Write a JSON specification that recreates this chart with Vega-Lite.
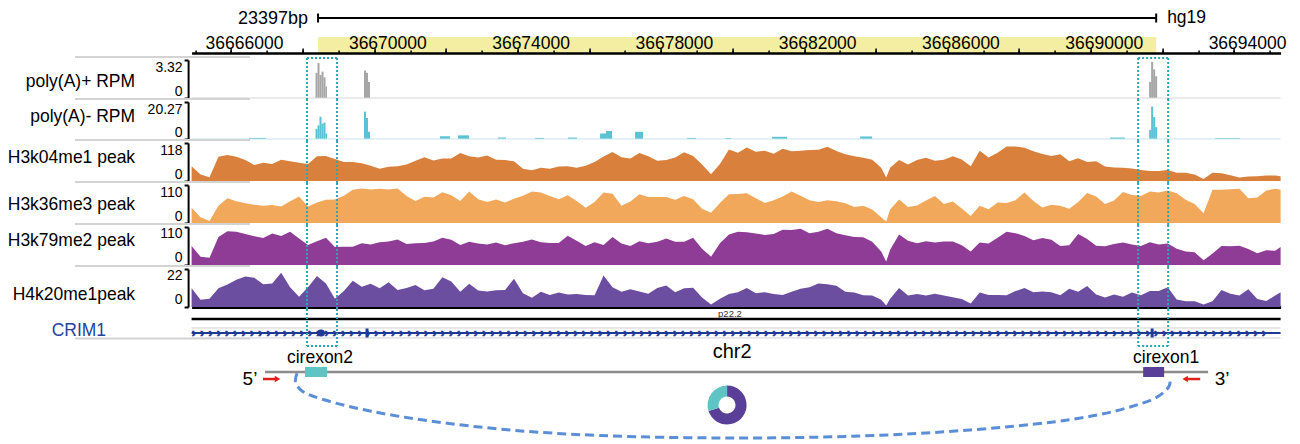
{
"$schema": "https://vega.github.io/schema/vega-lite/v6.json",
"background": "white",
"autosize": {"type": "pad"},
"padding": {"left": 6.6, "top": 0, "right": 5, "bottom": 0},
"bounds": "flush",
"spacing": 4,
"config": {
  "font": "Liberation Sans",
  "view": {"stroke": null},
  "axisY": {"labelFontSize": 14, "labelColor": "#000", "labelFont": "Liberation Sans", "labelPadding": 2, "labelFlush": true, "labelOverlap": false, "tickSize": 4, "tickWidth": 2, "tickColor": "#000", "domainColor": "#000", "domainWidth": 2, "offset": 3.5, "grid": false, "titleAngle": 0, "titleAlign": "right", "titleBaseline": "middle", "titleFontSize": 17.5, "titleFontWeight": "normal", "titleColor": "#000", "titleFont": "Liberation Sans", "titleX": -53.5, "labelExpr": "datum.value == 0 ? '0' : '' + datum.value"}
},
"datasets": {
  "boxes": [{"start": 36668122, "end": 36668960}, {"start": 36691323, "end": 36692161}],
  "polyPlus": [
    {"start": 36668359, "end": 36668415, "rpm": 2.2}, {"start": 36668415, "end": 36668471, "rpm": 3.05}, {"start": 36668471, "end": 36668527, "rpm": 2.0}, {"start": 36668527, "end": 36668583, "rpm": 2.3}, {"start": 36668583, "end": 36668638, "rpm": 1.8}, {"start": 36668638, "end": 36668680, "rpm": 1.0},
    {"start": 36669713, "end": 36669769, "rpm": 2.4}, {"start": 36669769, "end": 36669825, "rpm": 2.2}, {"start": 36669825, "end": 36669881, "rpm": 1.4},
    {"start": 36691631, "end": 36691686, "rpm": 1.4}, {"start": 36691686, "end": 36691742, "rpm": 3.15}, {"start": 36691742, "end": 36691798, "rpm": 2.5}, {"start": 36691798, "end": 36691854, "rpm": 1.9}
  ],
  "polyMinus": [
    {"start": 36666503, "end": 36666977, "rpm": 0.6},
    {"start": 36668359, "end": 36668415, "rpm": 5.5}, {"start": 36668415, "end": 36668471, "rpm": 7.5}, {"start": 36668471, "end": 36668527, "rpm": 12.2}, {"start": 36668527, "end": 36668583, "rpm": 8.5}, {"start": 36668583, "end": 36668638, "rpm": 9.0}, {"start": 36668638, "end": 36668680, "rpm": 3.0},
    {"start": 36669713, "end": 36669769, "rpm": 15.0}, {"start": 36669769, "end": 36669825, "rpm": 11.5}, {"start": 36669825, "end": 36669881, "rpm": 4.0},
    {"start": 36671835, "end": 36672114, "rpm": 1.5}, {"start": 36672338, "end": 36672645, "rpm": 2.0}, {"start": 36673455, "end": 36673678, "rpm": 0.8}, {"start": 36674488, "end": 36674739, "rpm": 0.6}, {"start": 36675409, "end": 36675660, "rpm": 0.8},
    {"start": 36676302, "end": 36676470, "rpm": 3.0}, {"start": 36676470, "end": 36676638, "rpm": 4.4}, {"start": 36677280, "end": 36677503, "rpm": 4.0},
    {"start": 36678731, "end": 36678983, "rpm": 0.6}, {"start": 36679792, "end": 36679960, "rpm": 0.6}, {"start": 36681105, "end": 36681524, "rpm": 1.2}, {"start": 36683562, "end": 36683897, "rpm": 1.4}, {"start": 36690542, "end": 36690960, "rpm": 0.8},
    {"start": 36691631, "end": 36691686, "rpm": 5.0}, {"start": 36691686, "end": 36691742, "rpm": 17.8}, {"start": 36691742, "end": 36691798, "rpm": 12.0}, {"start": 36691798, "end": 36691854, "rpm": 6.5},
    {"start": 36693473, "end": 36694171, "rpm": 0.4}
  ],
  "tracks": [
    {"pos": 36664900, "k04": 46, "k36": 44, "k79": 55, "k20": 10.8},
    {"pos": 36665150, "k04": 20, "k36": 17, "k79": 24, "k20": 4.2},
    {"pos": 36665400, "k04": 12, "k36": 6, "k79": 21, "k20": 4.8},
    {"pos": 36665650, "k04": 75, "k36": 50, "k79": 81, "k20": 10.8},
    {"pos": 36665900, "k04": 81, "k36": 72, "k79": 98, "k20": 13.0},
    {"pos": 36666150, "k04": 75, "k36": 63, "k79": 96, "k20": 15.8},
    {"pos": 36666400, "k04": 65, "k36": 57, "k79": 90, "k20": 17.6},
    {"pos": 36666650, "k04": 50, "k36": 53, "k79": 83, "k20": 16.9},
    {"pos": 36666900, "k04": 57, "k36": 50, "k79": 78, "k20": 13.2},
    {"pos": 36667150, "k04": 53, "k36": 52, "k79": 91, "k20": 13.6},
    {"pos": 36667400, "k04": 66, "k36": 48, "k79": 84, "k20": 19.8},
    {"pos": 36667650, "k04": 61, "k36": 63, "k79": 96, "k20": 11.4},
    {"pos": 36667900, "k04": 57, "k36": 77, "k79": 77, "k20": 5.9},
    {"pos": 36668150, "k04": 53, "k36": 48, "k79": 58, "k20": 11.4},
    {"pos": 36668400, "k04": 77, "k36": 59, "k79": 69, "k20": 18.0},
    {"pos": 36668650, "k04": 78, "k36": 67, "k79": 79, "k20": 13.6},
    {"pos": 36668900, "k04": 68, "k36": 68, "k79": 52, "k20": 4.8},
    {"pos": 36669150, "k04": 59, "k36": 79, "k79": 53, "k20": 9.2},
    {"pos": 36669400, "k04": 59, "k36": 96, "k79": 53, "k20": 15.2},
    {"pos": 36669650, "k04": 55, "k36": 100, "k79": 63, "k20": 11.7},
    {"pos": 36669900, "k04": 47, "k36": 97, "k79": 59, "k20": 13.4},
    {"pos": 36670150, "k04": 38, "k36": 99, "k79": 66, "k20": 10.8},
    {"pos": 36670400, "k04": 44, "k36": 97, "k79": 68, "k20": 14.3},
    {"pos": 36670650, "k04": 46, "k36": 100, "k79": 74, "k20": 9.9},
    {"pos": 36670900, "k04": 51, "k36": 78, "k79": 61, "k20": 11.0},
    {"pos": 36671150, "k04": 63, "k36": 64, "k79": 63, "k20": 12.8},
    {"pos": 36671400, "k04": 74, "k36": 76, "k79": 64, "k20": 9.7},
    {"pos": 36671650, "k04": 64, "k36": 74, "k79": 68, "k20": 10.6},
    {"pos": 36671900, "k04": 70, "k36": 89, "k79": 79, "k20": 17.2},
    {"pos": 36672150, "k04": 70, "k36": 80, "k79": 73, "k20": 14.7},
    {"pos": 36672400, "k04": 87, "k36": 64, "k79": 58, "k20": 8.8},
    {"pos": 36672650, "k04": 77, "k36": 91, "k79": 67, "k20": 13.4},
    {"pos": 36672900, "k04": 73, "k36": 69, "k79": 62, "k20": 9.5},
    {"pos": 36673150, "k04": 79, "k36": 61, "k79": 59, "k20": 9.0},
    {"pos": 36673400, "k04": 66, "k36": 68, "k79": 65, "k20": 9.7},
    {"pos": 36673650, "k04": 65, "k36": 59, "k79": 57, "k20": 9.9},
    {"pos": 36673900, "k04": 61, "k36": 70, "k79": 63, "k20": 16.3},
    {"pos": 36674150, "k04": 38, "k36": 79, "k79": 67, "k20": 7.9},
    {"pos": 36674400, "k04": 33, "k36": 91, "k79": 74, "k20": 5.3},
    {"pos": 36674650, "k04": 41, "k36": 88, "k79": 66, "k20": 8.8},
    {"pos": 36674900, "k04": 38, "k36": 78, "k79": 64, "k20": 7.0},
    {"pos": 36675150, "k04": 45, "k36": 69, "k79": 64, "k20": 8.4},
    {"pos": 36675400, "k04": 46, "k36": 80, "k79": 85, "k20": 7.3},
    {"pos": 36675650, "k04": 41, "k36": 64, "k79": 70, "k20": 7.5},
    {"pos": 36675900, "k04": 47, "k36": 44, "k79": 55, "k20": 7.0},
    {"pos": 36676150, "k04": 59, "k36": 61, "k79": 66, "k20": 6.8},
    {"pos": 36676400, "k04": 76, "k36": 88, "k79": 58, "k20": 18.3},
    {"pos": 36676650, "k04": 90, "k36": 85, "k79": 81, "k20": 11.4},
    {"pos": 36676900, "k04": 74, "k36": 50, "k79": 62, "k20": 8.8},
    {"pos": 36677150, "k04": 70, "k36": 62, "k79": 55, "k20": 10.3},
    {"pos": 36677400, "k04": 87, "k36": 83, "k79": 69, "k20": 9.0},
    {"pos": 36677650, "k04": 77, "k36": 75, "k79": 63, "k20": 7.7},
    {"pos": 36677900, "k04": 63, "k36": 75, "k79": 67, "k20": 11.0},
    {"pos": 36678150, "k04": 65, "k36": 75, "k79": 77, "k20": 12.5},
    {"pos": 36678400, "k04": 73, "k36": 67, "k79": 67, "k20": 8.6},
    {"pos": 36678650, "k04": 89, "k36": 78, "k79": 67, "k20": 10.8},
    {"pos": 36678900, "k04": 78, "k36": 69, "k79": 79, "k20": 11.2},
    {"pos": 36679150, "k04": 51, "k36": 41, "k79": 47, "k20": 5.5},
    {"pos": 36679400, "k04": 21, "k36": 30, "k79": 24, "k20": 1.5},
    {"pos": 36679650, "k04": 53, "k36": 58, "k79": 63, "k20": 4.8},
    {"pos": 36679900, "k04": 98, "k36": 83, "k79": 88, "k20": 7.5},
    {"pos": 36680150, "k04": 88, "k36": 84, "k79": 96, "k20": 8.6},
    {"pos": 36680400, "k04": 104, "k36": 86, "k79": 95, "k20": 11.0},
    {"pos": 36680650, "k04": 91, "k36": 72, "k79": 91, "k20": 7.9},
    {"pos": 36680900, "k04": 94, "k36": 58, "k79": 87, "k20": 8.6},
    {"pos": 36681150, "k04": 85, "k36": 66, "k79": 90, "k20": 7.5},
    {"pos": 36681400, "k04": 100, "k36": 77, "k79": 102, "k20": 7.0},
    {"pos": 36681650, "k04": 92, "k36": 91, "k79": 101, "k20": 8.8},
    {"pos": 36681900, "k04": 94, "k36": 79, "k79": 105, "k20": 10.6},
    {"pos": 36682150, "k04": 96, "k36": 66, "k79": 92, "k20": 11.4},
    {"pos": 36682400, "k04": 97, "k36": 61, "k79": 96, "k20": 13.6},
    {"pos": 36682650, "k04": 106, "k36": 66, "k79": 105, "k20": 13.2},
    {"pos": 36682900, "k04": 93, "k36": 63, "k79": 92, "k20": 12.3},
    {"pos": 36683150, "k04": 83, "k36": 57, "k79": 86, "k20": 8.8},
    {"pos": 36683400, "k04": 77, "k36": 46, "k79": 81, "k20": 8.4},
    {"pos": 36683650, "k04": 72, "k36": 50, "k79": 80, "k20": 6.8},
    {"pos": 36683900, "k04": 66, "k36": 39, "k79": 67, "k20": 6.6},
    {"pos": 36684150, "k04": 41, "k36": 17, "k79": 39, "k20": 4.2},
    {"pos": 36684290, "k04": 11, "k36": 4, "k79": 10, "k20": 0.9},
    {"pos": 36684400, "k04": 41, "k36": 39, "k79": 44, "k20": 4.8},
    {"pos": 36684650, "k04": 65, "k36": 68, "k79": 88, "k20": 11.0},
    {"pos": 36684900, "k04": 51, "k36": 46, "k79": 70, "k20": 6.6},
    {"pos": 36685150, "k04": 65, "k36": 51, "k79": 63, "k20": 7.5},
    {"pos": 36685400, "k04": 72, "k36": 65, "k79": 69, "k20": 6.6},
    {"pos": 36685650, "k04": 63, "k36": 78, "k79": 65, "k20": 7.7},
    {"pos": 36685900, "k04": 66, "k36": 55, "k79": 68, "k20": 6.6},
    {"pos": 36686150, "k04": 77, "k36": 62, "k79": 68, "k20": 5.7},
    {"pos": 36686400, "k04": 67, "k36": 42, "k79": 57, "k20": 4.6},
    {"pos": 36686650, "k04": 46, "k36": 20, "k79": 39, "k20": 2.0},
    {"pos": 36686900, "k04": 94, "k36": 50, "k79": 65, "k20": 8.4},
    {"pos": 36687150, "k04": 73, "k36": 40, "k79": 62, "k20": 7.0},
    {"pos": 36687400, "k04": 88, "k36": 59, "k79": 79, "k20": 7.0},
    {"pos": 36687650, "k04": 107, "k36": 58, "k79": 96, "k20": 6.8},
    {"pos": 36687900, "k04": 107, "k36": 66, "k79": 92, "k20": 9.2},
    {"pos": 36688150, "k04": 103, "k36": 88, "k79": 84, "k20": 11.0},
    {"pos": 36688400, "k04": 92, "k36": 64, "k79": 72, "k20": 8.6},
    {"pos": 36688650, "k04": 84, "k36": 45, "k79": 78, "k20": 9.0},
    {"pos": 36688900, "k04": 78, "k36": 53, "k79": 73, "k20": 8.6},
    {"pos": 36689150, "k04": 83, "k36": 50, "k79": 55, "k20": 6.8},
    {"pos": 36689400, "k04": 61, "k36": 41, "k79": 57, "k20": 10.6},
    {"pos": 36689650, "k04": 71, "k36": 61, "k79": 90, "k20": 8.8},
    {"pos": 36689900, "k04": 59, "k36": 87, "k79": 75, "k20": 12.1},
    {"pos": 36690150, "k04": 61, "k36": 77, "k79": 56, "k20": 7.3},
    {"pos": 36690400, "k04": 45, "k36": 55, "k79": 54, "k20": 5.5},
    {"pos": 36690650, "k04": 42, "k36": 65, "k79": 61, "k20": 7.3},
    {"pos": 36690900, "k04": 41, "k36": 90, "k79": 65, "k20": 5.9},
    {"pos": 36691150, "k04": 39, "k36": 81, "k79": 59, "k20": 8.4},
    {"pos": 36691400, "k04": 34, "k36": 78, "k79": 55, "k20": 6.8},
    {"pos": 36691650, "k04": 31, "k36": 91, "k79": 66, "k20": 9.2},
    {"pos": 36691900, "k04": 31, "k36": 88, "k79": 59, "k20": 9.2},
    {"pos": 36692150, "k04": 34, "k36": 94, "k79": 62, "k20": 11.4},
    {"pos": 36692400, "k04": 26, "k36": 86, "k79": 47, "k20": 4.4},
    {"pos": 36692650, "k04": 26, "k36": 67, "k79": 39, "k20": 3.3},
    {"pos": 36692900, "k04": 20, "k36": 55, "k79": 37, "k20": 3.3},
    {"pos": 36693150, "k04": 6, "k36": 28, "k79": 14, "k20": 1.5},
    {"pos": 36693400, "k04": 26, "k36": 96, "k79": 33, "k20": 3.3},
    {"pos": 36693650, "k04": 24, "k36": 96, "k79": 55, "k20": 9.9},
    {"pos": 36693900, "k04": 18, "k36": 98, "k79": 54, "k20": 7.7},
    {"pos": 36694150, "k04": 11, "k36": 99, "k79": 56, "k20": 6.6},
    {"pos": 36694400, "k04": 14, "k36": 72, "k79": 46, "k20": 10.3},
    {"pos": 36694650, "k04": 15, "k36": 74, "k79": 34, "k20": 4.6},
    {"pos": 36694900, "k04": 17, "k36": 94, "k79": 43, "k20": 3.5},
    {"pos": 36695150, "k04": 17, "k36": 99, "k79": 41, "k20": 6.6},
    {"pos": 36695300, "k04": 15, "k36": 96, "k79": 52, "k20": 8.6}
  ],
  "curve": [
    {"p": 36667843, "d": 0.02, "k": 0}, {"p": 36667801, "d": 0.154, "k": 1}, {"p": 36667982, "d": 0.292, "k": 2}, {"p": 36668624, "d": 0.431, "k": 3},
    {"p": 36669881, "d": 0.6, "k": 4}, {"p": 36671556, "d": 0.754, "k": 5}, {"p": 36673790, "d": 0.892, "k": 6}, {"p": 36676302, "d": 0.977, "k": 7},
    {"p": 36679932, "d": 1.015, "k": 8}, {"p": 36683562, "d": 0.985, "k": 9}, {"p": 36686633, "d": 0.892, "k": 10}, {"p": 36688950, "d": 0.769, "k": 11},
    {"p": 36690179, "d": 0.662, "k": 12}, {"p": 36691100, "d": 0.538, "k": 13}, {"p": 36691854, "d": 0.385, "k": 14}, {"p": 36692189, "d": 0.215, "k": 15},
    {"p": 36692217, "d": 0.062, "k": 16}
  ],
  "circ": [{"name": "cirexon2", "start": 36668066, "end": 36668680}, {"name": "cirexon1", "start": 36691463, "end": 36692049}],
  "donut": [{"name": "cirexon1", "share": 70, "k": 1}, {"name": "cirexon2", "share": 30, "k": 2}],
  "sep": [{"s": 36661644, "e": 36666530}]
},
"vconcat": [
  {
    "height": 56, "width": 1089,
    "resolve": {"axis": {"x": "independent"}},
    "layer": [
      {"data": {"values": [{"s": 36668430, "e": 36691827}]},
       "mark": {"type": "rect", "color": "#f3eea2"},
       "encoding": {
         "x": {"field": "s", "type": "quantitative", "scale": {"domain": [36664900, 36695300], "nice": false, "zero": false},
               "axis": {"orient": "top", "offset": -53, "zindex": 2, "values": [36665000,36666000,36667000,36668000,36669000,36670000,36671000,36672000,36673000,36674000,36675000,36676000,36677000,36678000,36679000,36680000,36681000,36682000,36683000,36684000,36685000,36686000,36687000,36688000,36689000,36690000,36691000,36692000,36693000,36694000,36695000],
                        "labels": false, "tickSize": 3, "tickWidth": 1.5, "tickColor": "#000", "domain": true, "domainWidth": 2.5, "domainColor": "#000", "grid": false, "title": null}},
         "x2": {"field": "e"},
         "y": {"datum": 37, "scale": {"domain": [0, 56], "reverse": true, "nice": false, "zero": false}, "axis": null},
         "y2": {"datum": 53}}},
      {"data": {"values": [{"s": 36668430, "e": 36691827}]},
       "mark": {"type": "rule", "color": "#000", "strokeWidth": 2},
       "encoding": {
         "x": {"field": "s", "type": "quantitative", "scale": {"domain": [36664900, 36695300], "nice": false, "zero": false},
               "axis": {"orient": "top", "offset": -53, "zindex": 2, "values": [36666000,36668000,36670000,36672000,36674000,36676000,36678000,36680000,36682000,36684000,36686000,36688000,36690000,36692000,36694000],
                        "tickSize": 5, "tickWidth": 1.5, "tickColor": "#000", "domain": false, "grid": false, "title": null,
                        "labelExpr": "(datum.value - 36666000) % 4000 == 0 ? format(datum.value, 'd') : ''",
                        "labelFontSize": 17.5, "labelFont": "Liberation Sans", "labelColor": "#000", "labelBaseline": "alphabetic", "labelPadding": 0, "labelOffset": 13, "labelFlush": false, "labelOverlap": false}},
         "x2": {"field": "e"},
         "y": {"datum": 18, "scale": {"domain": [0, 56], "reverse": true, "nice": false, "zero": false}, "axis": null}}},
      {"data": {"values": [{"p": 36668430}, {"p": 36691827}]},
       "mark": {"type": "rule", "color": "#000", "strokeWidth": 2},
       "encoding": {
         "x": {"field": "p", "type": "quantitative", "scale": {"domain": [36664900, 36695300], "nice": false, "zero": false}, "axis": null},
         "y": {"datum": 13.5, "scale": {"domain": [0, 56], "reverse": true, "nice": false, "zero": false}, "axis": null},
         "y2": {"datum": 22.5}}},
      {"data": {"values": [{"t": "23397bp"}]},
       "mark": {"type": "text", "align": "right", "baseline": "middle", "fontSize": 18, "color": "#000"},
       "encoding": {"text": {"field": "t"},
         "x": {"datum": 36668150, "scale": {"domain": [36664900, 36695300], "nice": false, "zero": false}, "axis": null},
         "y": {"datum": 19, "scale": {"domain": [0, 56], "reverse": true, "nice": false, "zero": false}, "axis": null}}},
      {"data": {"values": [{"t": "hg19"}]},
       "mark": {"type": "text", "align": "left", "baseline": "middle", "fontSize": 17.5, "color": "#000"},
       "encoding": {"text": {"field": "t"},
         "x": {"datum": 36692133, "scale": {"domain": [36664900, 36695300], "nice": false, "zero": false}, "axis": null},
         "y": {"datum": 17.5, "scale": {"domain": [0, 56], "reverse": true, "nice": false, "zero": false}, "axis": null}}}
    ]
  },
  {
    "height": 38, "width": 1089,
    "layer": [
      {"data": {"name": "polyPlus"}, "mark": {"type": "rect", "color": "#a6a6a6"},
       "encoding": {
         "x": {"field": "start", "type": "quantitative", "scale": {"domain": [36664900, 36695300], "nice": false, "zero": false}, "axis": null},
         "x2": {"field": "end"},
         "y": {"field": "rpm", "type": "quantitative", "scale": {"domain": [0, 3.32], "nice": false, "zero": false}, "axis": {"values": [0, 3.32], "title": "poly(A)+ RPM", "titleY": 21}},
         "y2": {"datum": 0}}},
      {"data": {"values": [{"s": 36664900, "e": 36695300}]}, "mark": {"type": "rule", "color": "#d6d6d6", "strokeWidth": 1},
       "encoding": {
         "x": {"field": "s", "type": "quantitative", "scale": {"domain": [36664900, 36695300], "nice": false, "zero": false}, "axis": null},
         "x2": {"field": "e"},
         "y": {"datum": 0, "scale": {"domain": [0, 3.32], "nice": false, "zero": false}}}},
      {"data": {"name": "sep"}, "mark": {"type": "rule", "color": "#d3d3d3", "strokeWidth": 2},
       "encoding": {
         "x": {"field": "s", "type": "quantitative", "scale": {"domain": [36664900, 36695300], "nice": false, "zero": false}, "axis": null},
         "x2": {"field": "e"},
         "y": {"datum": -0.087, "scale": {"domain": [0, 3.32], "nice": false, "zero": false}}}},
      {"data": {"name": "sep"}, "mark": {"type": "rule", "color": "#d3d3d3", "strokeWidth": 2},
       "encoding": {
         "x": {"field": "s", "type": "quantitative", "scale": {"domain": [36664900, 36695300], "nice": false, "zero": false}, "axis": null},
         "x2": {"field": "e"},
         "y": {"datum": 3.58, "scale": {"domain": [0, 3.32], "nice": false, "zero": false}}}},
      {"data": {"name": "boxes"}, "transform": [{"fold": ["start", "end"], "as": ["edge", "p"]}],
       "mark": {"type": "rule", "color": "#2aa7b5", "strokeWidth": 2, "strokeDash": [2, 2]},
       "encoding": {
         "x": {"field": "p", "type": "quantitative", "scale": {"domain": [36664900, 36695300], "nice": false, "zero": false}, "axis": null},
         "y": {"datum": -0.175, "scale": {"domain": [0, 3.32], "nice": false, "zero": false}},
         "y2": {"datum": 3.495}}},
      {"data": {"name": "boxes"},
       "mark": {"type": "rule", "color": "#2aa7b5", "strokeWidth": 2, "strokeDash": [2, 2]},
       "encoding": {
         "x": {"field": "start", "type": "quantitative", "scale": {"domain": [36664900, 36695300], "nice": false, "zero": false}, "axis": null},
         "x2": {"field": "end"},
         "y": {"datum": 3.495, "scale": {"domain": [0, 3.32], "nice": false, "zero": false}}}}
    ]
  },
  {
    "height": 37, "width": 1089,
    "layer": [
      {"data": {"name": "polyMinus"}, "mark": {"type": "rect", "color": "#5bc2d4"},
       "encoding": {
         "x": {"field": "start", "type": "quantitative", "scale": {"domain": [36664900, 36695300], "nice": false, "zero": false}, "axis": null},
         "x2": {"field": "end"},
         "y": {"field": "rpm", "type": "quantitative", "scale": {"domain": [0, 20.27], "nice": false, "zero": false}, "axis": {"values": [0, 20.27], "title": "poly(A)- RPM", "titleY": 14}},
         "y2": {"datum": 0}}},
      {"data": {"values": [{"s": 36664900, "e": 36695300}]}, "mark": {"type": "rule", "color": "#c4e5ec", "strokeWidth": 1},
       "encoding": {
         "x": {"field": "s", "type": "quantitative", "scale": {"domain": [36664900, 36695300], "nice": false, "zero": false}, "axis": null},
         "x2": {"field": "e"},
         "y": {"datum": 0, "scale": {"domain": [0, 20.27], "nice": false, "zero": false}}}},
      {"data": {"name": "sep"}, "mark": {"type": "rule", "color": "#d3d3d3", "strokeWidth": 2},
       "encoding": {
         "x": {"field": "s", "type": "quantitative", "scale": {"domain": [36664900, 36695300], "nice": false, "zero": false}, "axis": null},
         "x2": {"field": "e"},
         "y": {"datum": -0.55, "scale": {"domain": [0, 20.27], "nice": false, "zero": false}}}},
      {"data": {"name": "boxes"}, "transform": [{"fold": ["start", "end"], "as": ["edge", "p"]}],
       "mark": {"type": "rule", "color": "#2aa7b5", "strokeWidth": 2, "strokeDash": [2, 2]},
       "encoding": {
         "x": {"field": "p", "type": "quantitative", "scale": {"domain": [36664900, 36695300], "nice": false, "zero": false}, "axis": null},
         "y": {"datum": -1.096, "scale": {"domain": [0, 20.27], "nice": false, "zero": false}},
         "y2": {"datum": 21.366}}}
    ]
  },
  {
    "height": 38, "width": 1089,
    "layer": [
      {"data": {"name": "tracks"}, "mark": {"type": "area", "color": "#d9803d"},
       "encoding": {
         "x": {"field": "pos", "type": "quantitative", "scale": {"domain": [36664900, 36695300], "nice": false, "zero": false}, "axis": null},
         "y": {"field": "k04", "type": "quantitative", "scale": {"domain": [0, 118], "nice": false, "zero": false}, "axis": {"values": [0, 118], "title": "H3k04me1 peak", "titleY": 14.5}}}},
      {"data": {"name": "sep"}, "mark": {"type": "rule", "color": "#d3d3d3", "strokeWidth": 2},
       "encoding": {
         "x": {"field": "s", "type": "quantitative", "scale": {"domain": [36664900, 36695300], "nice": false, "zero": false}, "axis": null},
         "x2": {"field": "e"},
         "y": {"datum": -3.1, "scale": {"domain": [0, 118], "nice": false, "zero": false}}}},
      {"data": {"name": "boxes"}, "transform": [{"fold": ["start", "end"], "as": ["edge", "p"]}],
       "mark": {"type": "rule", "color": "#2aa7b5", "strokeWidth": 2, "strokeDash": [2, 2]},
       "encoding": {
         "x": {"field": "p", "type": "quantitative", "scale": {"domain": [36664900, 36695300], "nice": false, "zero": false}, "axis": null},
         "y": {"datum": -6.21, "scale": {"domain": [0, 118], "nice": false, "zero": false}},
         "y2": {"datum": 124.21}}}
    ]
  },
  {
    "height": 38, "width": 1089,
    "layer": [
      {"data": {"name": "tracks"}, "mark": {"type": "area", "color": "#f2a85b"},
       "encoding": {
         "x": {"field": "pos", "type": "quantitative", "scale": {"domain": [36664900, 36695300], "nice": false, "zero": false}, "axis": null},
         "y": {"field": "k36", "type": "quantitative", "scale": {"domain": [0, 110], "nice": false, "zero": false}, "axis": {"values": [0, 110], "title": "H3k36me3 peak", "titleY": 19.25}}}},
      {"data": {"name": "sep"}, "mark": {"type": "rule", "color": "#d3d3d3", "strokeWidth": 2},
       "encoding": {
         "x": {"field": "s", "type": "quantitative", "scale": {"domain": [36664900, 36695300], "nice": false, "zero": false}, "axis": null},
         "x2": {"field": "e"},
         "y": {"datum": -2.9, "scale": {"domain": [0, 110], "nice": false, "zero": false}}}},
      {"data": {"name": "boxes"}, "transform": [{"fold": ["start", "end"], "as": ["edge", "p"]}],
       "mark": {"type": "rule", "color": "#2aa7b5", "strokeWidth": 2, "strokeDash": [2, 2]},
       "encoding": {
         "x": {"field": "p", "type": "quantitative", "scale": {"domain": [36664900, 36695300], "nice": false, "zero": false}, "axis": null},
         "y": {"datum": -5.79, "scale": {"domain": [0, 110], "nice": false, "zero": false}},
         "y2": {"datum": 115.79}}}
    ]
  },
  {
    "height": 38, "width": 1089,
    "layer": [
      {"data": {"name": "tracks"}, "mark": {"type": "area", "color": "#8e3c96"},
       "encoding": {
         "x": {"field": "pos", "type": "quantitative", "scale": {"domain": [36664900, 36695300], "nice": false, "zero": false}, "axis": null},
         "y": {"field": "k79", "type": "quantitative", "scale": {"domain": [0, 110], "nice": false, "zero": false}, "axis": {"values": [0, 110], "title": "H3k79me2 peak", "titleY": 14}}}},
      {"data": {"name": "sep"}, "mark": {"type": "rule", "color": "#d3d3d3", "strokeWidth": 2},
       "encoding": {
         "x": {"field": "s", "type": "quantitative", "scale": {"domain": [36664900, 36695300], "nice": false, "zero": false}, "axis": null},
         "x2": {"field": "e"},
         "y": {"datum": -2.9, "scale": {"domain": [0, 110], "nice": false, "zero": false}}}},
      {"data": {"name": "boxes"}, "transform": [{"fold": ["start", "end"], "as": ["edge", "p"]}],
       "mark": {"type": "rule", "color": "#2aa7b5", "strokeWidth": 2, "strokeDash": [2, 2]},
       "encoding": {
         "x": {"field": "p", "type": "quantitative", "scale": {"domain": [36664900, 36695300], "nice": false, "zero": false}, "axis": null},
         "y": {"datum": -5.79, "scale": {"domain": [0, 110], "nice": false, "zero": false}},
         "y2": {"datum": 115.79}}}
    ]
  },
  {
    "height": 38, "width": 1089,
    "layer": [
      {"data": {"name": "tracks"}, "mark": {"type": "area", "color": "#6c4ea0"},
       "encoding": {
         "x": {"field": "pos", "type": "quantitative", "scale": {"domain": [36664900, 36695300], "nice": false, "zero": false},
               "axis": {"orient": "bottom", "labels": false, "ticks": false, "domain": true, "domainWidth": 3, "domainColor": "#000", "grid": false, "title": null}},
         "y": {"field": "k20", "type": "quantitative", "scale": {"domain": [0, 22], "nice": false, "zero": false}, "axis": {"values": [0, 22], "title": "H4k20me1peak", "titleY": 25.25}}}},
      {"data": {"name": "boxes"}, "transform": [{"fold": ["start", "end"], "as": ["edge", "p"]}],
       "mark": {"type": "rule", "color": "#2aa7b5", "strokeWidth": 2, "strokeDash": [2, 2]},
       "encoding": {
         "x": {"field": "p", "type": "quantitative", "scale": {"domain": [36664900, 36695300], "nice": false, "zero": false}},
         "y": {"datum": -1.158, "scale": {"domain": [0, 22], "nice": false, "zero": false}},
         "y2": {"datum": 23.158}}}
    ]
  },
  {
    "height": 30, "width": 1089,
    "layer": [
      {"data": {"values": [{"s": 36664900, "e": 36695300}]}, "mark": {"type": "rule", "color": "#000", "strokeWidth": 2.5},
       "encoding": {
         "x": {"field": "s", "type": "quantitative", "scale": {"domain": [36664900, 36695300], "nice": false, "zero": false}, "axis": null},
         "x2": {"field": "e"},
         "y": {"datum": 8, "scale": {"domain": [0, 30], "reverse": true, "nice": false, "zero": false},
               "axis": {"title": "CRIM1", "domain": false, "ticks": false, "labels": false, "offset": 0, "titleX": -86, "titleY": 19.25, "titleColor": "#2443a0"}}}},
      {"data": {"values": [{"s": 36664900, "e": 36695300}]}, "mark": {"type": "rule", "color": "#d2d2d2", "strokeWidth": 1},
       "encoding": {
         "x": {"field": "s", "type": "quantitative", "scale": {"domain": [36664900, 36695300], "nice": false, "zero": false}, "axis": null},
         "x2": {"field": "e"},
         "y": {"datum": 17, "scale": {"domain": [0, 30], "reverse": true, "nice": false, "zero": false}}}},
      {"data": {"values": [{"s": 36664900, "e": 36695300}]}, "mark": {"type": "rule", "color": "#d2d2d2", "strokeWidth": 1},
       "encoding": {
         "x": {"field": "s", "type": "quantitative", "scale": {"domain": [36664900, 36695300], "nice": false, "zero": false}, "axis": null},
         "x2": {"field": "e"},
         "y": {"datum": 27, "scale": {"domain": [0, 30], "reverse": true, "nice": false, "zero": false}}}},
      {"data": {"name": "sep"}, "mark": {"type": "rule", "color": "#d3d3d3", "strokeWidth": 2},
       "encoding": {
         "x": {"field": "s", "type": "quantitative", "scale": {"domain": [36664900, 36695300], "nice": false, "zero": false}, "axis": null},
         "x2": {"field": "e"},
         "y": {"datum": 27.5, "scale": {"domain": [0, 30], "reverse": true, "nice": false, "zero": false}}}},
      {"data": {"values": [{"s": 36664900, "e": 36695300}]}, "mark": {"type": "rule", "color": "#1e3a96", "strokeWidth": 2},
       "encoding": {
         "x": {"field": "s", "type": "quantitative", "scale": {"domain": [36664900, 36695300], "nice": false, "zero": false}, "axis": null},
         "x2": {"field": "e"},
         "y": {"datum": 22, "scale": {"domain": [0, 30], "reverse": true, "nice": false, "zero": false}}}},
      {"data": {"values": [{"t": "› › › › › › › › › › › › › › › › › › › › › › › › › › › › › › › › › › › › › › › › › › › › › › › › › › › › › › › › › › › › › › › › › › › › › › › › › › › › › › › › › › › › › › › › › › › › › › › › › › › › › › › › › › › › › › › › › › › › › › › › › › › › › › › › › › › › › › › › › › › › › › ›"}]},
       "mark": {"type": "text", "align": "left", "baseline": "middle", "fontSize": 13.6, "fontWeight": "bold", "color": "#1e3a96", "stroke": "#1e3a96", "strokeWidth": 0.5, "limit": 1086, "ellipsis": " "},
       "encoding": {"text": {"field": "t"},
         "x": {"datum": 36664900, "scale": {"domain": [36664900, 36695300], "nice": false, "zero": false}, "axis": null},
         "y": {"datum": 22, "scale": {"domain": [0, 30], "reverse": true, "nice": false, "zero": false}}}},
      {"data": {"values": [{"s": 36669755, "e": 36669839}, {"s": 36691672, "e": 36691756}]}, "mark": {"type": "rect", "color": "#1e3a96"},
       "encoding": {
         "x": {"field": "s", "type": "quantitative", "scale": {"domain": [36664900, 36695300], "nice": false, "zero": false}, "axis": null},
         "x2": {"field": "e"},
         "y": {"datum": 17.5, "scale": {"domain": [0, 30], "reverse": true, "nice": false, "zero": false}},
         "y2": {"datum": 26.5}}},
      {"data": {"values": [{"s": 36668401, "e": 36668625}]}, "mark": {"type": "rect", "color": "#1e3a96", "cornerRadius": 3.5},
       "encoding": {
         "x": {"field": "s", "type": "quantitative", "scale": {"domain": [36664900, 36695300], "nice": false, "zero": false}, "axis": null},
         "x2": {"field": "e"},
         "y": {"datum": 18.5, "scale": {"domain": [0, 30], "reverse": true, "nice": false, "zero": false}},
         "y2": {"datum": 25.5}}},
      {"data": {"values": [{"t": "p22.2"}]},
       "mark": {"type": "text", "align": "left", "baseline": "middle", "fontSize": 9.5, "color": "#333"},
       "encoding": {"text": {"field": "t"},
         "x": {"datum": 36679597, "scale": {"domain": [36664900, 36695300], "nice": false, "zero": false}, "axis": null},
         "y": {"datum": 3.3, "scale": {"domain": [0, 30], "reverse": true, "nice": false, "zero": false}}}},
      {"data": {"name": "boxes"}, "transform": [{"fold": ["start", "end"], "as": ["edge", "p"]}],
       "mark": {"type": "rule", "color": "#2aa7b5", "strokeWidth": 2, "strokeDash": [2, 2]},
       "encoding": {
         "x": {"field": "p", "type": "quantitative", "scale": {"domain": [36664900, 36695300], "nice": false, "zero": false}, "axis": null},
         "y": {"datum": -2, "scale": {"domain": [0, 30], "reverse": true, "nice": false, "zero": false}},
         "y2": {"datum": 35}}},
      {"data": {"name": "boxes"},
       "mark": {"type": "rule", "color": "#2aa7b5", "strokeWidth": 2, "strokeDash": [2, 2]},
       "encoding": {
         "x": {"field": "start", "type": "quantitative", "scale": {"domain": [36664900, 36695300], "nice": false, "zero": false}, "axis": null},
         "x2": {"field": "end"},
         "y": {"datum": 35, "scale": {"domain": [0, 30], "reverse": true, "nice": false, "zero": false}}}}
    ]
  },
  {
    "height": 99, "width": 1089,
    "layer": [
      {"data": {"values": [{"s": 36666949, "e": 36693277}]}, "mark": {"type": "rule", "color": "#8c8c8c", "strokeWidth": 2.5},
       "encoding": {
         "x": {"field": "s", "type": "quantitative", "scale": {"domain": [36664900, 36695300], "nice": false, "zero": false}, "axis": null},
         "x2": {"field": "e"},
         "y": {"datum": 0, "scale": {"domain": [-0.4154, 1.1077], "reverse": true, "nice": false, "zero": false}, "axis": null}}},
      {"data": {"name": "curve"},
       "mark": {"type": "line", "interpolate": "catmull-rom", "color": "#5b8ed6", "strokeWidth": 3, "strokeDash": [9, 5]},
       "encoding": {
         "x": {"field": "p", "type": "quantitative", "scale": {"domain": [36664900, 36695300], "nice": false, "zero": false}, "axis": null},
         "y": {"field": "d", "type": "quantitative", "scale": {"domain": [-0.4154, 1.1077], "reverse": true, "nice": false, "zero": false}, "axis": null},
         "order": {"field": "k", "type": "quantitative"}}},
      {"data": {"name": "circ"}, "mark": {"type": "rect"},
       "encoding": {
         "x": {"field": "start", "type": "quantitative", "scale": {"domain": [36664900, 36695300], "nice": false, "zero": false}, "axis": null},
         "x2": {"field": "end"},
         "y": {"datum": -0.077, "scale": {"domain": [-0.4154, 1.1077], "reverse": true, "nice": false, "zero": false}, "axis": null},
         "y2": {"datum": 0.077},
         "color": {"field": "name", "type": "nominal", "scale": {"domain": ["cirexon1", "cirexon2"], "range": ["#5a3f98", "#5ec4c4"]}, "legend": null}}},
      {"data": {"values": [{"t": "cirexon2", "p": 36668485}, {"t": "cirexon1", "p": 36692105}]},
       "mark": {"type": "text", "align": "center", "baseline": "middle", "fontSize": 17.5, "color": "#000"},
       "encoding": {"text": {"field": "t"},
         "x": {"field": "p", "type": "quantitative", "scale": {"domain": [36664900, 36695300], "nice": false, "zero": false}, "axis": null},
         "y": {"datum": -0.208, "scale": {"domain": [-0.4154, 1.1077], "reverse": true, "nice": false, "zero": false}, "axis": null}}},
      {"data": {"values": [{"t": "chr2", "p": 36679988}]},
       "mark": {"type": "text", "align": "center", "baseline": "middle", "fontSize": 20, "color": "#000"},
       "encoding": {"text": {"field": "t"},
         "x": {"field": "p", "type": "quantitative", "scale": {"domain": [36664900, 36695300], "nice": false, "zero": false}, "axis": null},
         "y": {"datum": -0.308, "scale": {"domain": [-0.4154, 1.1077], "reverse": true, "nice": false, "zero": false}, "axis": null}}},
      {"data": {"values": [{"t": "5’", "p": 36666530}, {"t": "3’", "p": 36693669}]},
       "mark": {"type": "text", "align": "center", "baseline": "middle", "fontSize": 19, "color": "#000"},
       "encoding": {"text": {"field": "t"},
         "x": {"field": "p", "type": "quantitative", "scale": {"domain": [36664900, 36695300], "nice": false, "zero": false}, "axis": null},
         "y": {"datum": 0.108, "scale": {"domain": [-0.4154, 1.1077], "reverse": true, "nice": false, "zero": false}, "axis": null}}},
      {"data": {"values": [{"s": 36666893, "e": 36667256}, {"s": 36692664, "e": 36693055}]},
       "mark": {"type": "rule", "color": "#e0201c", "strokeWidth": 2.5},
       "encoding": {
         "x": {"field": "s", "type": "quantitative", "scale": {"domain": [36664900, 36695300], "nice": false, "zero": false}, "axis": null},
         "x2": {"field": "e"},
         "y": {"datum": 0.108, "scale": {"domain": [-0.4154, 1.1077], "reverse": true, "nice": false, "zero": false}, "axis": null}}},
      {"data": {"values": [{"p": 36667298}]},
       "mark": {"type": "point", "shape": "triangle-right", "filled": true, "size": 40, "color": "#e0201c", "opacity": 1},
       "encoding": {
         "x": {"field": "p", "type": "quantitative", "scale": {"domain": [36664900, 36695300], "nice": false, "zero": false}, "axis": null},
         "y": {"datum": 0.108, "scale": {"domain": [-0.4154, 1.1077], "reverse": true, "nice": false, "zero": false}, "axis": null}}},
      {"data": {"values": [{"p": 36692636}]},
       "mark": {"type": "point", "shape": "triangle-left", "filled": true, "size": 40, "color": "#e0201c", "opacity": 1},
       "encoding": {
         "x": {"field": "p", "type": "quantitative", "scale": {"domain": [36664900, 36695300], "nice": false, "zero": false}, "axis": null},
         "y": {"datum": 0.108, "scale": {"domain": [-0.4154, 1.1077], "reverse": true, "nice": false, "zero": false}, "axis": null}}},
      {"data": {"name": "donut"},
       "mark": {"type": "arc", "outerRadius": 19.5, "innerRadius": 8.5},
       "encoding": {
         "theta": {"field": "share", "type": "quantitative"},
         "order": {"field": "k", "type": "quantitative"},
         "color": {"field": "name", "type": "nominal", "scale": {"domain": ["cirexon1", "cirexon2"], "range": ["#5a3f98", "#5ec4c4"]}, "legend": null},
         "x": {"datum": 36679848, "scale": {"domain": [36664900, 36695300], "nice": false, "zero": false}, "axis": null},
         "y": {"datum": 0.508, "scale": {"domain": [-0.4154, 1.1077], "reverse": true, "nice": false, "zero": false}, "axis": null}}}
    ]
  }
]
}
